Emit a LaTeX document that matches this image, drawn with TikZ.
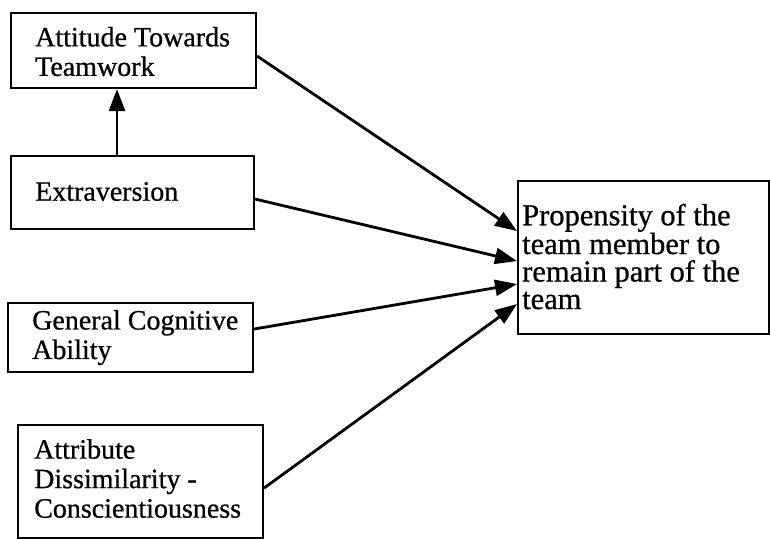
\documentclass[tikz,border=0pt]{standalone}
\usepackage{fontspec}
\setmainfont{Liberation Serif}[FakeBold=0.7]
\usetikzlibrary{arrows.meta,calc}
\begin{document}
\begin{tikzpicture}[x=1pt,y=-1pt,
  boxnode/.style={draw=black,line width=2.1pt,rectangle,anchor=north west,inner sep=0pt},
  lefttext/.style={anchor=west,align=left,inner sep=0pt,font=\fontsize{28}{29.5}\selectfont},
  righttext/.style={anchor=west,align=left,inner sep=0pt,font=\fontsize{30.5}{27.5}\selectfont},
  conn/.style={line width=2.8pt,-{Triangle[length=22pt,width=16pt]}}]
\useasboundingbox (0,0) rectangle (770,538);
\node[boxnode,minimum width=245,minimum height=75] (att) at (10,12) {};
\node[boxnode,minimum width=243,minimum height=73] (ext) at (10,155) {};
\node[boxnode,minimum width=245,minimum height=69] (gca) at (7,302) {};
\node[boxnode,minimum width=245,minimum height=113] (ads) at (17,424) {};
\node[boxnode,minimum width=251,minimum height=153] (prop) at (517,180) {};
\node[lefttext] (attT) at ($(att.west)+(25,1)$) {Attitude Towards\\Teamwork};
\node[lefttext] (extT) at ($(ext.west)+(25,-1)$) {Extraversion};
\node[lefttext] (gcaT) at ($(gca.west)+(25,0)$) {General Cognitive\\Ability};
\node[lefttext] (adsT) at ($(ads.west)+(17,-3)$) {Attribute\\Dissimilarity -\\Conscientiousness};
\node[righttext] (propT) at ($(prop.west)+(5,-1)$) {Propensity of the\\team member to\\remain part of the\\team};
\draw[conn] ($(ext.north west)+(107,0)$) -- ($(att.south west)+(107,0)$);
\draw[conn] ($(att.east)+(0,5.5)$) -- ($(prop.west)+(0,-26.5)$);
\draw[conn] ($(ext.east)+(0,6.5)$) -- ($(prop.west)+(0,3.5)$);
\draw[conn] ($(gca.east)+(0,-8.5)$) -- ($(prop.west)+(0,26.5)$);
\draw[conn] ($(ads.east)+(0,6.5)$) -- ($(prop.west)+(0,46.5)$);
\end{tikzpicture}
\end{document}
